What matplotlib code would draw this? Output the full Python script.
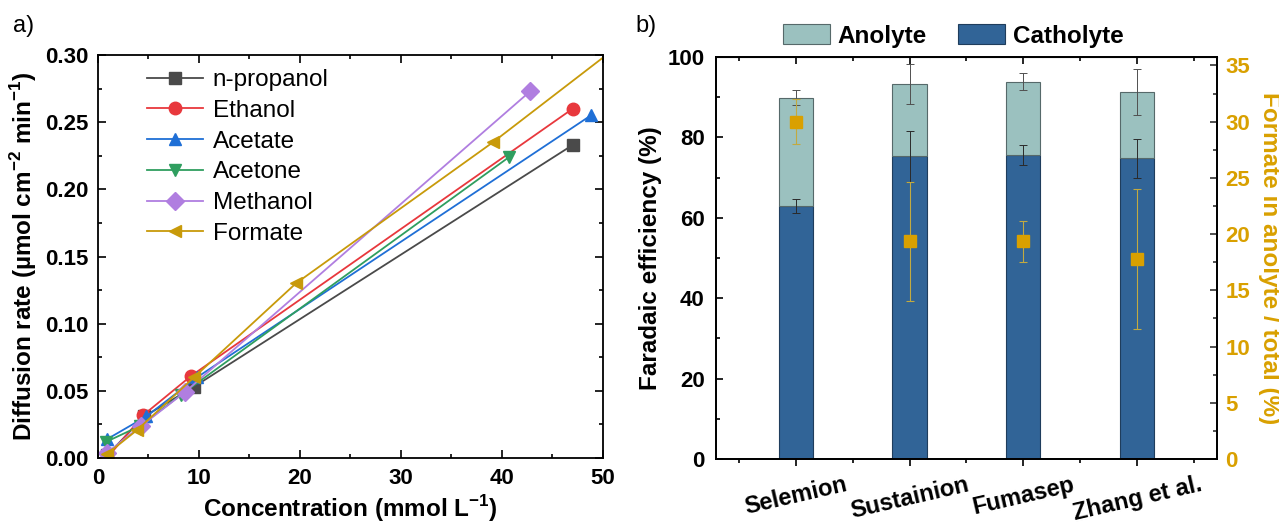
import matplotlib.pyplot as plt
import numpy as np

plt.rcParams['font.family'] = ['Liberation Sans', 'DejaVu Sans']
plt.rcParams['mathtext.fontset'] = 'custom'
plt.rcParams['mathtext.rm'] = 'Liberation Sans'
plt.rcParams['mathtext.bf'] = 'Liberation Sans:bold'

# ---- panel a data
species = ['n-propanol', 'Ethanol', 'Acetate', 'Acetone', 'Methanol', 'Formate']
conc = {
    'n-propanol': [0.9, 4.6, 9.5, 47.0],
    'Ethanol': [0.9, 4.5, 9.2, 47.0],
    'Acetate': [0.9, 4.8, 9.8, 48.8],
    'Acetone': [0.8, 4.2, 8.2, 40.7],
    'Methanol': [0.9, 4.3, 8.6, 42.8],
    'Formate': [0.9, 3.9, 9.5, 19.6, 39.1, 78.0],
}
rate = {
    'n-propanol': [0.002, 0.031, 0.053, 0.233],
    'Ethanol': [0.0, 0.032, 0.061, 0.260],
    'Acetate': [0.014, 0.031, 0.060, 0.255],
    'Acetone': [0.012, 0.024, 0.047, 0.224],
    'Methanol': [0.004, 0.024, 0.049, 0.273],
    'Formate': [0.003, 0.021, 0.060, 0.130, 0.235, 0.460],
}
colors_a = ['#4a4a4a', '#e8383d', '#1f6fd6', '#2f9e5f', '#b07ee0', '#c89a0a']
markers = ['s', 'o', '^', 'v', 'D', '<']

# ---- panel b data
membranes = ['Selemion', 'Sustainion', 'Fumasep', 'Zhang et al.']
catholyte = [62.9, 75.3, 75.7, 74.8]
catholyte_err = [1.7, 6.3, 2.5, 4.8]
anolyte = [27.0, 18.0, 18.2, 16.4]
total_err = [1.8, 4.9, 2.2, 5.7]
formate_frac = [30.0, 19.35, 19.35, 17.8]
formate_err = [2.0, 5.3, 1.8, 6.2]

TICK = 16
LAB = 17.5
gold = '#d9a000'

fig = plt.figure(figsize=(12.79, 5.25), dpi=100)

# ================= panel a
ax = fig.add_axes([0.0766, 0.1276, 0.3948, 0.7676])
for s, c, m in zip(species, colors_a, markers):
    ax.plot(conc[s], rate[s], color=c, marker=m, markersize=9, lw=1.3, label=s)
ax.set_xlim(0, 50)
ax.set_ylim(0, 0.30)
ax.set_xticks(np.arange(0, 51, 10))
ax.set_xticks(np.arange(0, 51, 5), minor=True)
ax.set_yticks(np.arange(0, 0.301, 0.05))
ax.set_yticks(np.arange(0, 0.301, 0.025), minor=True)
ax.set_yticklabels([f'{v:.2f}' for v in np.arange(0, 0.301, 0.05)])
ax.tick_params(axis='both', which='both', direction='in', top=True, right=True,
               labelsize=TICK, width=1.2, pad=7)
ax.tick_params(which='major', length=6)
ax.tick_params(which='minor', length=3)
for lab in ax.get_xticklabels() + ax.get_yticklabels():
    lab.set_fontweight('bold')
for sp in ax.spines.values():
    sp.set_linewidth(1.3)
ax.set_xlabel('Concentration (mmol L$^{\\mathbf{-1}}$)', fontsize=LAB, fontweight='bold', labelpad=3)
ax.set_ylabel('Diffusion rate (µmol cm$^{\\mathbf{-2}}$ min$^{\\mathbf{-1}}$)', fontsize=LAB,
              fontweight='bold', labelpad=4)
ax.legend(loc='upper left', bbox_to_anchor=(147 / 1279, 1 - 69 / 525),
          bbox_transform=fig.transFigure, frameon=False, fontsize=17.5, borderpad=0,
          borderaxespad=0, handlelength=2.3, labelspacing=0.36, handletextpad=0.4)
fig.text(0.010, 0.972, 'a)', fontsize=17, va='top')

# ================= panel b
bx = fig.add_axes([0.5598, 0.1257, 0.3917, 0.7657])
x = np.arange(1, len(membranes) + 1)
w = 0.30
bx.bar(x, catholyte, w, color='#316497', edgecolor='#1f3d5c', lw=0.8, label='Catholyte', zorder=2)
bx.bar(x, anolyte, w, bottom=catholyte, color='#9bc1bf', edgecolor='#56696a', lw=0.8,
       label='Anolyte', zorder=2)
bx.errorbar(x, catholyte, yerr=catholyte_err, fmt='none', ecolor='#2a2a2a', elinewidth=0.7,
            capsize=3, capthick=0.7, zorder=3)
tot = np.array(catholyte) + np.array(anolyte)
bx.errorbar(x, tot, yerr=total_err, fmt='none', ecolor='#505050', elinewidth=0.7,
            capsize=3, capthick=0.7, zorder=3)
bx.set_xlim(0.3, 4.7)
bx.set_ylim(0, 100)
bx.set_xticks(x)
bx.set_xticklabels(membranes, rotation=13, fontsize=17, fontweight='bold')
bx.set_xticks(np.arange(0.5, 4.6, 1), minor=True)
bx.set_yticks(np.arange(0, 101, 20))
bx.set_yticks(np.arange(0, 101, 10), minor=True)
bx.tick_params(axis='y', which='both', direction='in', labelsize=TICK, width=1.2, pad=8)
bx.tick_params(axis='x', which='both', direction='out', top=False, width=1.2, pad=5)
bx.tick_params(which='major', length=5)
bx.tick_params(which='minor', length=3)
for lab in bx.get_yticklabels():
    lab.set_fontweight('bold')
for lab in bx.get_xticklabels():
    lab.set_ha('center')
bt = bx.secondary_xaxis('top')
bt.set_xticks(x)
bt.set_xticks(np.arange(0.5, 4.6, 1), minor=True)
bt.tick_params(which='both', direction='in', labeltop=False, width=1.2)
bt.tick_params(which='major', length=5)
bt.tick_params(which='minor', length=3)
for sp in bx.spines.values():
    sp.set_linewidth(1.3)
bx.set_ylabel('Faradaic efficiency (%)', fontsize=LAB, fontweight='bold', labelpad=4)

b2 = bx.twinx()
b2.errorbar(x, formate_frac, yerr=formate_err, fmt='s', color=gold, markersize=9,
            ecolor='#c2aa40', elinewidth=0.8, capsize=3, capthick=0.8, zorder=4)
b2.set_ylim(0, 35.75)
b2.set_yticks(np.arange(0, 36, 5))
b2.set_yticks(np.arange(0, 36, 2.5), minor=True)
b2.tick_params(axis='y', which='both', direction='in', colors='#333333', labelcolor=gold,
               labelsize=TICK, width=1.2, pad=6)
b2.tick_params(which='major', length=5)
b2.tick_params(which='minor', length=3)
for lab in b2.get_yticklabels():
    lab.set_fontweight('bold')
for sp in b2.spines.values():
    sp.set_linewidth(1.3)
b2.set_ylabel('Formate in anolyte / total (%)', fontsize=LAB, fontweight='bold', color=gold,
              rotation=270, labelpad=22)

h, l = bx.get_legend_handles_labels()
bx.legend(h[::-1], l[::-1], loc='center', bbox_to_anchor=(953 / 1279, 1 - 36 / 525),
          bbox_transform=fig.transFigure, ncol=2, frameon=False, borderpad=0,
          prop={'weight': 'bold', 'size': 17.5},
          handlelength=1.95, handleheight=0.9, columnspacing=1.3, handletextpad=0.3)
fig.text(0.497, 0.972, 'b)', fontsize=17, va='top')

fig.savefig('out.png', dpi=100)
